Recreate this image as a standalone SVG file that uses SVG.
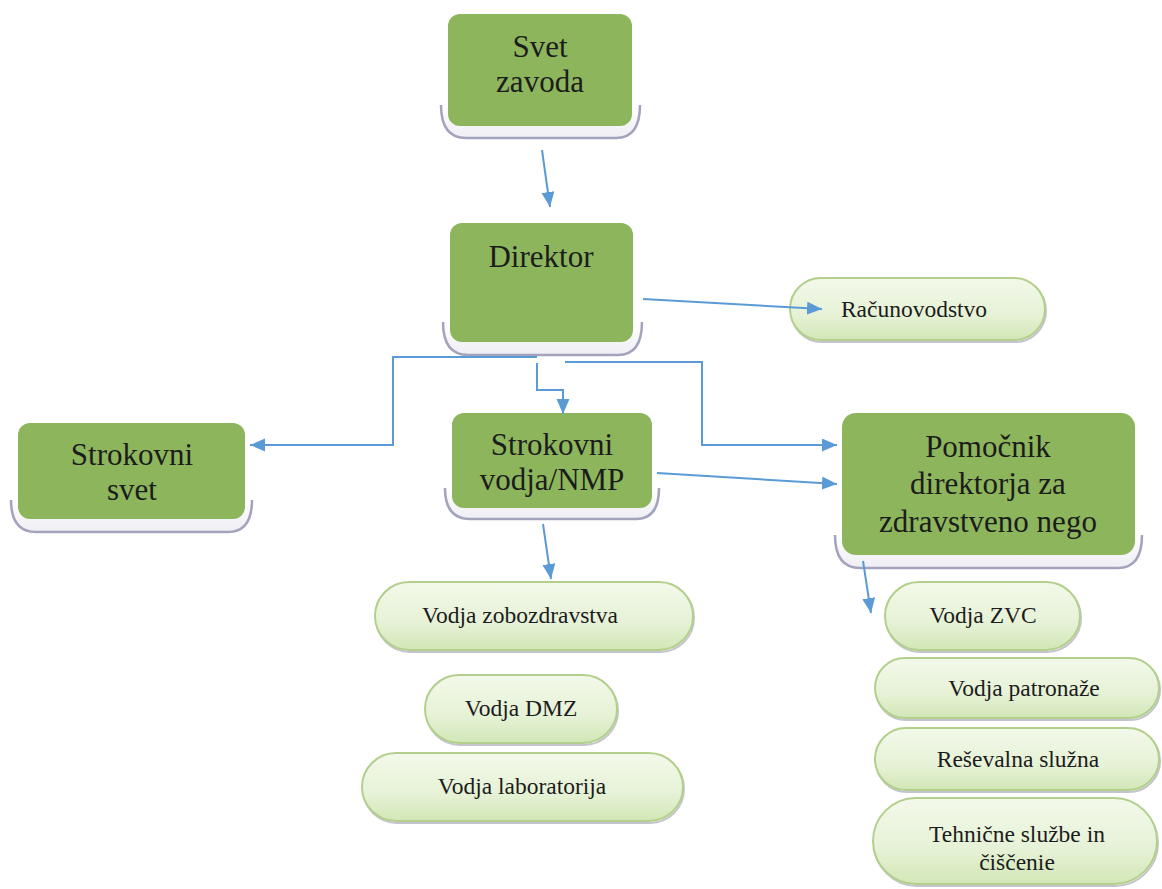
<svg xmlns="http://www.w3.org/2000/svg" width="1162" height="889" viewBox="0 0 1162 889">
<defs>
<linearGradient id="pillG" x1="0" y1="0" x2="0" y2="1">
<stop offset="0" stop-color="#f3f9ea"/>
<stop offset="0.6" stop-color="#e6f2d6"/>
<stop offset="1" stop-color="#d2e6b6"/>
</linearGradient>
<linearGradient id="plateG" x1="0" y1="0" x2="0" y2="1">
<stop offset="0" stop-color="#ffffff"/>
<stop offset="1" stop-color="#eeeef4"/>
</linearGradient>
<marker id="arr" markerUnits="userSpaceOnUse" markerWidth="16" markerHeight="14" refX="15" refY="6.5" orient="auto">
<path d="M0,0 L15,6.5 L0,13 z" fill="#5b9bd5"/>
</marker>
</defs>
<style>
.box{fill:#8db55c;}
.plate{fill:url(#plateG);stroke:#a3a3bd;stroke-width:2.5;}
.pill{fill:url(#pillG);stroke:#b2cf8c;stroke-width:2;}
.pshadow{fill:none;stroke:#c4c4cc;stroke-width:2;}
.t{font-family:'Liberation Serif','DejaVu Serif',serif;fill:#1c1c1c;text-anchor:middle;}
.big{font-size:31px;}
.small{font-size:23.5px;}
.c{fill:none;stroke:#5b9bd5;stroke-width:2;marker-end:url(#arr);}
</style>
<rect width="1162" height="889" fill="#ffffff"/>

<g id="svet-zavoda">
<path class="plate" d="M441,105 Q441,138 466,138 L616,138 Q640,138 640,105"/>
<rect class="box" x="448" y="14" width="184" height="112" rx="12"/>
<text class="t big" font-family="Liberation Serif, DejaVu Serif, serif" x="540" y="57">Svet</text>
<text class="t big" font-family="Liberation Serif, DejaVu Serif, serif" x="540" y="92">zavoda</text>
</g>

<g id="direktor">
<path class="plate" d="M443,322 Q443,355 468,355 L618,355 Q642,355 642,322"/>
<rect class="box" x="450" y="223" width="183" height="119" rx="12"/>
<text class="t big" font-family="Liberation Serif, DejaVu Serif, serif" x="541" y="267">Direktor</text>
</g>

<g id="strokovni-svet">
<path class="plate" d="M11,500 Q11,532 36,532 L228,532 Q252,532 252,500"/>
<rect class="box" x="18" y="423" width="227" height="96" rx="12"/>
<text class="t big" font-family="Liberation Serif, DejaVu Serif, serif" x="132" y="465">Strokovni</text>
<text class="t big" font-family="Liberation Serif, DejaVu Serif, serif" x="132" y="500">svet</text>
</g>

<g id="strokovni-vodja">
<path class="plate" d="M445,488 Q445,519 470,519 L636,519 Q659,519 659,488"/>
<rect class="box" x="452" y="413" width="200" height="95" rx="12"/>
<text class="t big" font-family="Liberation Serif, DejaVu Serif, serif" x="552" y="455">Strokovni</text>
<text class="t big" font-family="Liberation Serif, DejaVu Serif, serif" x="552" y="490">vodja/NMP</text>
</g>

<g id="pomocnik">
<path class="plate" d="M835,535 Q835,568 860,568 L1118,568 Q1142,568 1142,535"/>
<rect class="box" x="842" y="413" width="293" height="142" rx="14"/>
<text class="t big" font-family="Liberation Serif, DejaVu Serif, serif" x="988" y="457">Pomočnik</text>
<text class="t big" font-family="Liberation Serif, DejaVu Serif, serif" x="988" y="494">direktorja za</text>
<text class="t big" font-family="Liberation Serif, DejaVu Serif, serif" x="988" y="532">zdravstveno nego</text>
</g>

<g id="racunovodstvo">
<rect class="pshadow" x="791" y="280" width="255" height="62" rx="31"/>
<rect class="pill" x="790" y="278" width="255" height="62" rx="31"/>
<text class="t small" font-family="Liberation Serif, DejaVu Serif, serif" x="914" y="317">Računovodstvo</text>
</g>

<g id="vodja-zobozdravstva">
<rect class="pshadow" x="376" y="584" width="318" height="68" rx="34"/>
<rect class="pill" x="375" y="582" width="318" height="68" rx="34"/>
<text class="t small" font-family="Liberation Serif, DejaVu Serif, serif" x="520" y="623">Vodja zobozdravstva</text>
</g>

<g id="vodja-dmz">
<rect class="pshadow" x="426" y="677" width="192" height="68" rx="34"/>
<rect class="pill" x="425" y="675" width="192" height="68" rx="34"/>
<text class="t small" font-family="Liberation Serif, DejaVu Serif, serif" x="521" y="716">Vodja DMZ</text>
</g>

<g id="vodja-laboratorija">
<rect class="pshadow" x="363" y="755" width="321" height="68" rx="34"/>
<rect class="pill" x="362" y="753" width="321" height="68" rx="34"/>
<text class="t small" font-family="Liberation Serif, DejaVu Serif, serif" x="522" y="794">Vodja laboratorija</text>
</g>

<g id="vodja-zvc">
<rect class="pshadow" x="886" y="584" width="195" height="68" rx="34"/>
<rect class="pill" x="885" y="582" width="195" height="68" rx="34"/>
<text class="t small" font-family="Liberation Serif, DejaVu Serif, serif" x="983" y="623">Vodja ZVC</text>
</g>

<g id="vodja-patronaze">
<rect class="pshadow" x="876" y="660" width="284" height="60" rx="30"/>
<rect class="pill" x="875" y="658" width="284" height="60" rx="30"/>
<text class="t small" font-family="Liberation Serif, DejaVu Serif, serif" x="1024" y="696">Vodja patronaže</text>
</g>

<g id="resevalna-sluzna">
<rect class="pshadow" x="876" y="730" width="284" height="62" rx="31"/>
<rect class="pill" x="875" y="728" width="284" height="62" rx="31"/>
<text class="t small" font-family="Liberation Serif, DejaVu Serif, serif" x="1018" y="767">Reševalna služna</text>
</g>

<g id="tehnicne-sluzbe">
<rect class="pshadow" x="874" y="800" width="284" height="86" rx="43"/>
<rect class="pill" x="873" y="798" width="284" height="86" rx="43"/>
<text class="t small" font-family="Liberation Serif, DejaVu Serif, serif" x="1017" y="842">Tehnične službe in</text>
<text class="t small" font-family="Liberation Serif, DejaVu Serif, serif" x="1017" y="870">čiščenie</text>
</g>

<g id="connectors">
<path class="c" d="M542,150 L550,207"/>
<path class="c" d="M643,299 L822,309"/>
<path class="c" d="M537,357 L393,357 L393,445 L250,445"/>
<path class="c" d="M537,363 L537,390 L563,390 L563,414"/>
<path class="c" d="M565,362 L702,362 L702,445 L837,445"/>
<path class="c" d="M657,473 L837,484"/>
<path class="c" d="M543,524 L551,579"/>
<path class="c" d="M863,561 L871,613"/>
</g>
</svg>
